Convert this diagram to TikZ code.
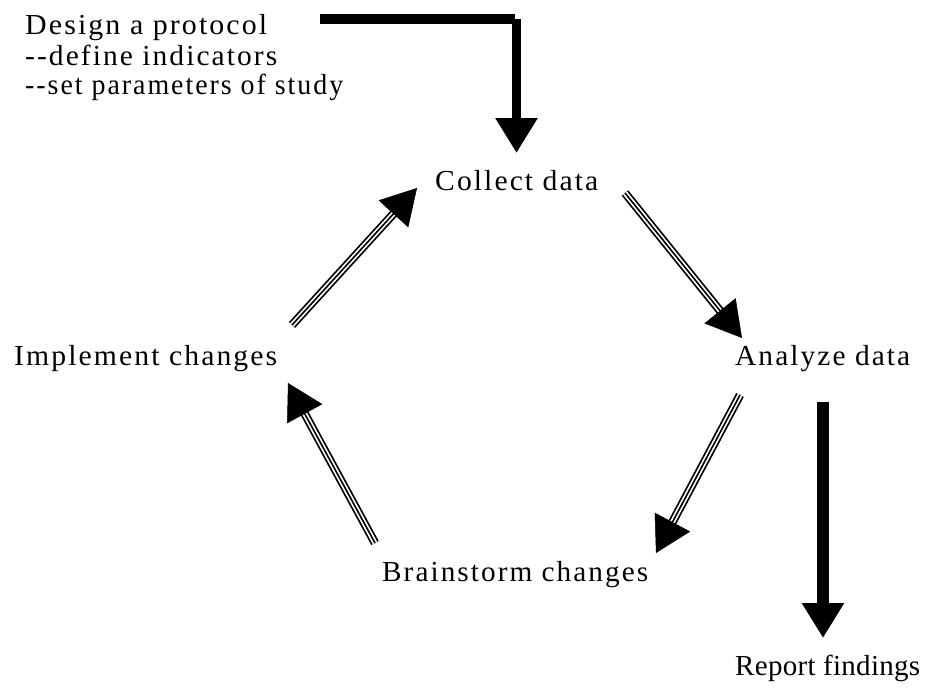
\documentclass[tikz,border=0pt]{standalone}
\usepackage{fontspec}
\usepackage{graphicx}
\setmainfont[LetterSpace=7]{Liberation Serif}
\usetikzlibrary{arrows.meta}
\newcommand\fitw[2]{\resizebox{#1pt}{\height}{#2}}
\tikzset{
  lbl/.style={anchor=base west, inner sep=0pt, font=\fontsize{29}{30}\selectfont},
  head/.style={-{Triangle[length=35pt,width=40pt]}},
  tri/.style={line width=8.5pt, shorten >=33pt,
    postaction={draw=white, line width=5pt, shorten >=31pt},
    postaction={draw=black, line width=1.6pt, shorten >=33pt},
    postaction={draw=black, line width=0.5pt, shorten >=0pt, head}}
}
\begin{document}
\begin{tikzpicture}[x=1pt,y=-1pt]
\useasboundingbox (0,0) rectangle (928,693);
\node[lbl] (design) at (25,35) {\fitw{242}{Design a protocol}};
\node[lbl] (define) at (25,65) {\fitw{252}{-{}-define indicators}};
\node[lbl] (setpar) at (25,94) {\fitw{318}{-{}-set parameters of study}};
\node[lbl] (collect) at (435,190) {\fitw{163}{Collect data}};
\node[lbl] (implement) at (14,365) {\fitw{263}{Implement changes}};
\node[lbl] (analyze) at (735,365) {\fitw{175}{Analyze data}};
\node[lbl] (brain) at (382,581) {\fitw{266}{Brainstorm changes}};
\node[lbl] (report) at (735,675) {\fitw{185}{\addfontfeature{LetterSpace=1}Report findings}};
% coordinates for arrow ends
\coordinate (d1) at (320,19);
\coordinate (d2) at (515,19);
\coordinate (d3) at (516.5,19);
\coordinate (d4) at (516.5,153);
\coordinate (c1) at (625,193);
\coordinate (c2) at (742,338);
\coordinate (a1) at (740,395);
\coordinate (a2) at (656,553);
\coordinate (b1) at (375,543);
\coordinate (b2) at (288,383);
\coordinate (i1) at (292,325);
\coordinate (i2) at (417,188);
\coordinate (r1) at (823,402);
\coordinate (r2) at (823,638);
% thick arrows
\draw[line width=10pt] (d1) -- (d2);
\draw[line width=9pt, head] (d3) -- (d4);
\draw[line width=12pt, head] (r1) -- (r2);
% triple arrows
\draw[tri] (c1) -- (c2);
\draw[tri] (a1) -- (a2);
\draw[tri] (b1) -- (b2);
\draw[tri] (i1) -- (i2);
\end{tikzpicture}
\end{document}
